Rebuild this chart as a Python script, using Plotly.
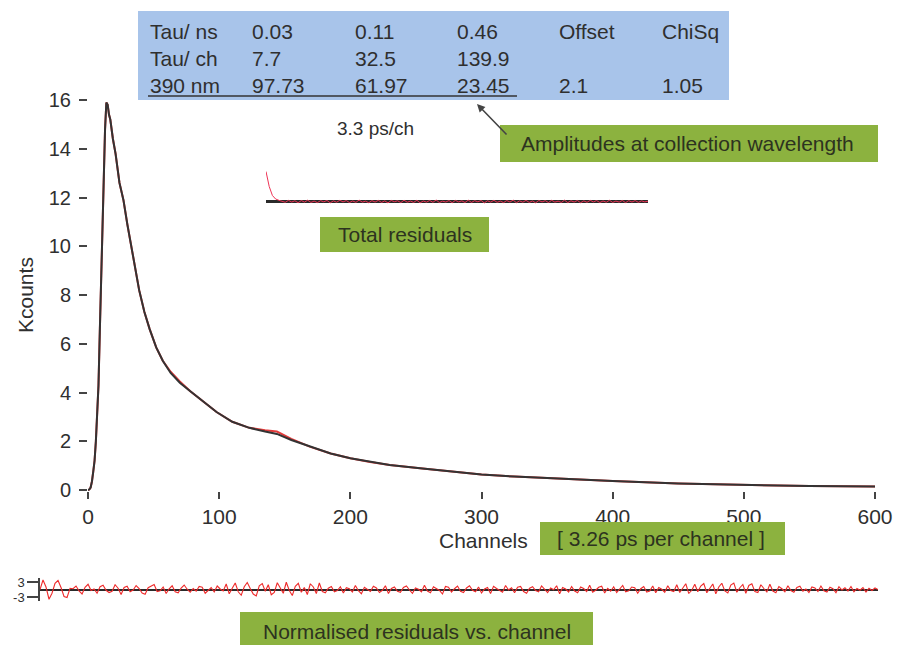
import plotly.graph_objects as go

# ---------------- data ----------------
channels = [0, 1, 2, 3, 4, 5, 6, 7, 8, 9, 10, 11, 12, 13, 14, 15, 16, 17,
            19, 21, 24, 27, 30, 33, 36, 39, 43, 47, 52, 57, 63, 70, 78, 85, 92, 98,
            110, 123, 135, 144, 155, 169, 185, 200, 215, 230, 255, 280, 300, 325,
            350, 375, 400, 450, 500, 550, 600]
fit_kcounts = [0, 0.02, 0.1, 0.35, 0.75, 1.2, 2.0, 3.0, 4.3, 6.5, 8.8, 11.0, 13.1, 14.8, 15.9, 15.8, 15.4, 15.2,
               14.4, 13.8, 12.6, 11.9, 10.9, 10.0, 9.1, 8.2, 7.3, 6.6, 5.85, 5.3, 4.8, 4.4, 4.05, 3.75, 3.45, 3.2,
               2.8, 2.55, 2.4, 2.3, 2.05, 1.78, 1.5, 1.3, 1.15, 1.03, 0.88, 0.74, 0.64, 0.55,
               0.48, 0.42, 0.37, 0.27, 0.2, 0.16, 0.14]
data_kcounts = [0, 0.02, 0.1, 0.35, 0.75, 1.2, 2.0, 3.0, 4.3, 6.5, 8.8, 11.0, 13.1, 14.8, 15.9, 15.8, 15.4, 15.2,
                14.4, 13.8, 12.6, 11.9, 10.9, 10.05, 9.15, 8.2, 7.3, 6.6, 5.85, 5.3, 4.85, 4.45, 4.05, 3.75, 3.45, 3.2,
                2.8, 2.55, 2.45, 2.4, 2.1, 1.78, 1.5, 1.3, 1.15, 1.03, 0.88, 0.74, 0.64, 0.55,
                0.48, 0.42, 0.37, 0.27, 0.2, 0.16, 0.14]

x_ticks = [0, 100, 200, 300, 400, 500, 600]
y_ticks = [0, 2, 4, 6, 8, 10, 12, 14, 16]

tau_ns = ["0.03", "0.11", "0.46"]
tau_ch = ["7.7", "32.5", "139.9"]
amplitudes = ["97.73", "61.97", "23.45"]
offset_val = "2.1"
chisq_val = "1.05"

# total residuals inset (arbitrary units)
total_residuals = [30, 15, 6, 2.5, 1.2, 0.4, -0.8, 1.1, -0.5, 0.7, -1.2, 0.9, -0.6, 1.3, -0.9, 0.4,
                   -1.1, 0.8, -0.3, 1.0, -1.3, 0.6, -0.7, 1.2, -0.4, 0.9, -1.0, 0.5, -0.8, 1.4,
                   -0.6, 0.3, -1.2, 0.8, -0.5, 1.1, -0.9, 0.6, -1.4, 1.0, -0.2, 0.7, -1.1, 1.3,
                   -0.7, 0.4, -0.9, 1.2, -1.3, 0.5, -0.6, 1.0, -0.8, 1.5, -1.0, 0.3, -0.5, 0.9,
                   -1.2, 1.1, -0.4, 0.6, -1.0, 1.3, -0.9, 0.8, -0.3, 1.0, -1.4, 0.7, -0.6, 1.2,
                   -0.8, 0.4, -1.1, 0.9, -0.5, 1.4, -1.2, 0.6, -0.7, 1.1, -0.9, 0.5, -1.3, 1.0,
                   -0.4, 0.8, -1.0, 1.2, -0.6, 0.3, -0.9, 1.3, -1.1, 0.7, -0.5, 1.0, -1.2, 0.6,
                   -0.8, 1.1, -0.4, 0.9, -1.0, 0.5, -0.7, 1.2, -0.9, 0.4, -0.6, 1.0, -1.1, 0.8,
                   -0.5, 0.9, -0.8, 0.6, -0.4, 0.3]

# normalised residuals strip
norm_residuals = [
    0.0, 3.8, 1.0, -3.9, -1.5, 2.5, 3.6, 0.8, -2.8, -3.2,
    0.5, 0.3, 1.4, -0.6, -1.8, 0.9, 2.1, -0.4, 0.2, -1.5,
    1.1, 1.7, -0.3, -1.2, -0.7, 1.9, 0.5, -2.0, 0.8, 1.3,
    -0.9, -0.2, 1.6, 0.4, -1.4, -1.9, 0.7, 1.2, 2.0, -0.8,
    -0.5, 1.0, -1.6, 0.3, 1.5, -0.9, -1.3, 0.6, 1.8, 0.1,
    -1.1, 0.4, -0.7, 1.2, 0.9, -1.5, -0.3, 0.8, -1.0, 1.4,
    0.2, -0.6, 2.2, -1.7, 0.5, 2.6, -0.9, -2.3, 1.1, 2.8,
    0.4, -1.8, -2.6, 1.5, 2.4, -0.7, 1.9, -2.1, -1.2, 2.7,
    0.6, -1.5, 2.9, -0.4, -2.4, 1.3, 2.5, -1.1, 0.8, -2.0,
    2.3, 1.0, -1.6, 2.6, -0.8, -1.3, 0.5, 1.2, -0.9, -0.4,
    1.1, -1.4, 0.7, 0.3, -1.0, 1.6, -0.5, -1.7, 0.9, 0.2,
    -0.8, 1.3, 0.6, -1.2, -0.3, 1.5, -1.6, 0.4, 1.0, -0.7,
    -1.1, 0.8, 1.4, -0.2, -1.5, 0.6, 0.1, -0.9, 1.7, -0.6,
    -1.3, 1.1, 0.5, -0.4, -1.8, 1.2, 0.9, -1.0, 0.3, 1.4,
    -0.7, -1.2, 0.6, 1.5, -0.3, -0.9, 1.0, -1.4, 0.2, 0.8,
    -1.6, 1.3, 0.4, -0.5, -1.1, 1.6, -0.2, 0.7, -1.3, 0.9,
    1.2, -0.8, -1.5, 0.5, 1.1, -0.4, -0.9, 1.4, 0.3, -1.2,
    0.6, -0.1, 1.5, -1.7, 0.8, 0.2, -1.0, 1.2, -0.6, -1.3,
    1.0, 0.4, -0.8, 1.7, -1.1, -0.3, 0.9, 1.3, -1.4, 0.5,
    -0.7, 1.1, -1.2, 0.2, 1.6, -0.9, -0.5, 1.0, 0.7, -1.5,
    0.3, 1.2, -1.0, -0.6, 1.4, -1.3, 0.8, 0.1, -1.1, 1.5,
    -0.4, -0.8, 1.9, -1.2, 0.6, 2.3, -1.6, -0.3, 2.1, -0.9,
    1.4, 2.4, -1.3, 0.5, 2.2, -1.7, 1.0, 2.5, -0.6, -1.4,
    1.8, 2.6, -1.1, 0.7, 2.0, -1.5, 1.6, 2.3, -0.8, -1.2,
    1.9, 0.4, -1.0, 2.1, -0.6, -1.3, 1.2, 0.3, -0.9, 1.5,
    -0.4, -1.1, 0.8, 1.3, -0.7, 0.2, -1.2, 1.0, 0.6, -0.8,
    1.4, -0.5, -1.0, 0.9, 0.3, -1.3, 1.1, -0.2, 0.7, -0.6,
    1.2, -0.9, 0.4, -0.3, 0.8, -1.0, 0.5, -0.4, 0.6, 0.0,
]

# ---------------- helpers (screen pixel -> paper) ----------------
# the page body adds an 8 px margin, so screen pixels are shifted by OFF
W, H = 901, 645
OFF = 8


def px(x):
    return (x - OFF) / W


def py(y):
    return (H - (y - OFF)) / H


FONT = "Liberation Sans, Arial, Helvetica, sans-serif"
TXT = "#2f2f2f"
GREEN = "#8cb23f"
GREEN_TXT = "#2d3320"
BLUE = "#a8c4ea"

fig = go.Figure()

# main decay: data (red) and fit (black)
fig.add_trace(go.Scatter(x=channels, y=data_kcounts, mode="lines",
                         line=dict(color="#e23b3b", width=2), xaxis="x", yaxis="y"))
fig.add_trace(go.Scatter(x=channels, y=fit_kcounts, mode="lines",
                         line=dict(color="#333333", width=2), xaxis="x", yaxis="y"))

# normalised residuals strip
fig.add_trace(go.Scatter(x=list(range(len(norm_residuals))), y=norm_residuals, mode="lines",
                         line=dict(color="#ee2a2a", width=1.1), xaxis="x2", yaxis="y2"))

# total residuals inset
fig.add_trace(go.Scatter(x=list(range(len(total_residuals))), y=total_residuals, mode="lines",
                         line=dict(color="#ee3355", width=1), xaxis="x3", yaxis="y3"))

# main plot geometry: x 0->88px, 600->875px ; y 0->490px, 16->100px
ppu = 390 / 16.0
y_top_px, y_bot_px = 92, 491
y_rng = [-(y_bot_px - 490) / ppu, 16 + (100 - y_top_px) / ppu]

# strip geometry
s_top, s_bot, s_zero = 578, 601, 589.5
s_ppu = 15 / 6.0
s_rng = [-(s_bot - s_zero) / s_ppu, (s_zero - s_top) / s_ppu]

# inset geometry (1 unit = 1 px)
i_top, i_bot, i_zero = 165, 212, 201.5
i_rng = [-(i_bot - i_zero), i_zero - i_top]

fig.update_layout(
    width=W, height=H, autosize=False,
    margin=dict(l=0, r=0, t=0, b=0, pad=0, autoexpand=False),
    paper_bgcolor="white", plot_bgcolor="rgba(0,0,0,0)", showlegend=False,
    font=dict(family=FONT, color=TXT, size=21),
    xaxis=dict(domain=[px(88), px(875)], range=[0, 600], tickvals=x_ticks,
               ticks="outside", ticklen=7, tickwidth=1.5, tickcolor="#444",
               showline=False, showgrid=False, zeroline=False, automargin=False,
               tickfont=dict(size=21, color=TXT), anchor="y"),
    yaxis=dict(domain=[py(y_bot_px), py(y_top_px)], range=y_rng, tickvals=y_ticks,
               ticks="outside", ticklen=8, tickwidth=1.5, tickcolor="#444",
               showline=False, showgrid=False, zeroline=False, automargin=False,
               tickfont=dict(size=20, color=TXT), anchor="x", ticklabelstandoff=4),
    xaxis2=dict(domain=[px(40), px(878)], range=[0, len(norm_residuals) - 1],
                visible=False, anchor="y2", automargin=False),
    yaxis2=dict(domain=[py(s_bot), py(s_top)], range=s_rng, tickvals=[3, -3], ticktext=["3", "-3"],
                ticks="outside", ticklen=11, tickwidth=1.5, tickcolor="#444",
                showline=True, linecolor="#444", linewidth=1.5, automargin=False,
                showgrid=False, zeroline=True, zerolinecolor="#2a2a2a", zerolinewidth=2,
                tickfont=dict(size=13, color=TXT), anchor="x2"),
    xaxis3=dict(domain=[px(266), px(648)], range=[0, len(total_residuals) - 1],
                visible=False, anchor="y3", automargin=False),
    yaxis3=dict(domain=[py(i_bot), py(i_top)], range=i_rng, showticklabels=False, ticks="",
                showline=False, showgrid=False, zeroline=True, zerolinecolor="#2a2a2a",
                zerolinewidth=2.5, anchor="x3", automargin=False),
)

shapes = []
annotations = []

# table box
shapes.append(dict(type="rect", xref="paper", yref="paper",
                   x0=px(138), x1=px(729), y0=py(100), y1=py(11),
                   fillcolor=BLUE, line=dict(width=0), layer="above"))
shapes.append(dict(type="line", xref="paper", yref="paper",
                   x0=px(148), x1=px(517), y0=py(96), y1=py(96),
                   line=dict(color="#333", width=1.5), layer="above"))

col_x = [250, 352.7, 455]
rows_y = [31.7, 58.3, 85]


def table_text(x, y, s):
    annotations.append(dict(x=px(x), y=py(y), xref="paper", yref="paper", text=s,
                            showarrow=False, xanchor="left", yanchor="middle",
                            font=dict(size=21, color=TXT, family=FONT)))


table_text(148, rows_y[0], "Tau/ ns")
table_text(148, rows_y[1], "Tau/ ch")
table_text(148, rows_y[2], "390 nm")
for cx, a, b, c in zip(col_x, tau_ns, tau_ch, amplitudes):
    table_text(cx, rows_y[0], a)
    table_text(cx, rows_y[1], b)
    table_text(cx, rows_y[2], c)
table_text(557, rows_y[0], "Offset")
table_text(660, rows_y[0], "ChiSq")
table_text(557, rows_y[2], offset_val)
table_text(660, rows_y[2], chisq_val)


def green_label(x0, x1, y0, y1, text, cx=None, cy=None):
    shapes.append(dict(type="rect", xref="paper", yref="paper",
                       x0=px(x0), x1=px(x1), y0=py(y1), y1=py(y0),
                       fillcolor=GREEN, line=dict(width=0), layer="above"))
    annotations.append(dict(x=px(cx if cx is not None else (x0 + x1) / 2),
                            y=py(cy if cy is not None else (y0 + y1) / 2),
                            xref="paper", yref="paper", text=text, showarrow=False,
                            xanchor="center", yanchor="middle",
                            font=dict(size=21, color=GREEN_TXT, family=FONT)))


green_label(500, 878, 125, 162, "Amplitudes at collection wavelength", cx=687)
green_label(320, 489, 217, 252, "Total residuals")
green_label(540, 785, 522, 555, "[ 3.26 ps per channel ]", cx=661)
green_label(240, 593, 612, 650, "Normalised residuals vs. channel", cx=417, cy=631)

# arrow from label to table
annotations.append(dict(x=px(477), y=py(104), xref="paper", yref="paper", text="",
                        showarrow=True, ax=31, ay=32, axref="pixel", ayref="pixel",
                        arrowhead=2, arrowsize=1, arrowwidth=1.6, arrowcolor="#444"))

# plain text labels
annotations.append(dict(x=px(375), y=py(128), xref="paper", yref="paper", text="3.3 ps/ch",
                        showarrow=False, xanchor="center", yanchor="middle",
                        font=dict(size=19, color=TXT, family=FONT)))
annotations.append(dict(x=px(437), y=py(540), xref="paper", yref="paper", text="Channels",
                        showarrow=False, xanchor="left", yanchor="middle",
                        font=dict(size=21, color=TXT, family=FONT)))
annotations.append(dict(x=px(25), y=py(295), xref="paper", yref="paper", text="Kcounts",
                        showarrow=False, xanchor="center", yanchor="middle", textangle=-90,
                        font=dict(size=21, color=TXT, family=FONT)))

fig.update_layout(shapes=shapes, annotations=annotations)

fig.write_html("out.html")
